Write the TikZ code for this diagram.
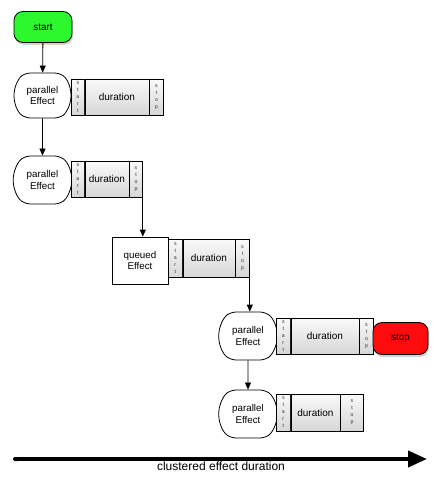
\documentclass[tikz,border=0pt]{standalone}
\usepackage{fontspec}
\setmainfont{Liberation Sans}
\usetikzlibrary{shapes.misc,shadows,arrows.meta}
\definecolor{startgreen}{RGB}{45,248,45}
\definecolor{stopred}{RGB}{252,12,12}
\begin{document}
\begin{tikzpicture}[x=1pt,y=-1pt,
  effect/.style={rounded rectangle, rounded rectangle arc length=110, rounded corners=5pt, draw, line width=0.8pt,
    fill=white, minimum width=57pt, minimum height=47pt, inner sep=0pt, align=center,
    font=\fontsize{9.8}{11.5}\selectfont},
  queued/.style={rectangle, draw, line width=0.8pt, fill=white, minimum width=56pt,
    minimum height=47pt, inner sep=0pt, align=center, font=\fontsize{9.8}{11.5}\selectfont},
  terminal/.style={rectangle, rounded corners=9pt, draw, line width=0.8pt, minimum width=58pt,
    minimum height=31pt, inner sep=0pt, font=\fontsize{10}{12}\selectfont,
    drop shadow={shadow xshift=1pt, shadow yshift=-2.5pt, opacity=0.35}},
  cellbase/.style={rectangle, draw, line width=0.6pt, top color=gray!4, bottom color=gray!32,
    inner sep=0pt, minimum height=36pt, anchor=west},
  durcell/.style={cellbase, font=\fontsize{10}{12}\selectfont},
  sidecell/.style={cellbase, align=center, text=gray!40!black, font=\fontsize{5.2}{7}\selectfont},
  conn/.style={draw, line width=0.8pt, -{Triangle[length=7pt,width=6pt]}}
]
\useasboundingbox (0,0) rectangle (440,484);

% start terminal
\node[terminal, fill=startgreen] (start) at (43,27) {start};

% row 1
\node[effect, minimum height=45pt] (p1) at (42.5,95.5) {parallel\\Effect};
\node[sidecell, minimum width=13pt] (s1) at (71,97) {s\\t\\a\\r\\t};
\node[durcell, minimum width=64pt] (d1) at (s1.east) {duration};
\node[sidecell, minimum width=14pt] (e1) at (d1.east) {s\\t\\o\\p};

% row 2
\node[effect, minimum height=48pt] (p2) at (42.5,180) {parallel\\Effect};
\node[sidecell, minimum width=13pt] (s2) at (71,179) {s\\t\\a\\r\\t};
\node[durcell, minimum width=44pt] (d2) at (s2.east) {duration};
\node[sidecell, minimum width=13pt] (e2) at (d2.east) {s\\t\\o\\p};

% row 3
\node[queued] (q) at (140,260.5) {queued\\Effect};
\node[sidecell, minimum width=14pt, minimum height=38pt] (s3) at (168,258) {s\\t\\a\\r\\t};
\node[durcell, minimum width=52pt, minimum height=38pt] (d3) at (s3.east) {duration};
\node[sidecell, minimum width=14pt, minimum height=38pt] (e3) at (d3.east) {s\\t\\o\\p};

% row 4
\node[effect, minimum height=48pt] (p3) at (248,336) {parallel\\Effect};
\node[sidecell, minimum width=14pt] (s4) at (276,336) {s\\t\\a\\r\\t};
\node[durcell, minimum width=68pt] (d4) at (s4.east) {duration};
\node[sidecell, minimum width=14pt] (e4) at (d4.east) {s\\t\\o\\p};
\node[terminal, fill=stopred, minimum width=55pt, minimum height=32pt] (stop) at (400.5,338.5) {stop};

% row 5
\node[effect, minimum height=48pt] (p4) at (248,414) {parallel\\Effect};
\node[sidecell, minimum width=14pt, minimum height=37pt] (s5) at (276,412.5) {s\\t\\a\\r\\t};
\node[durcell, minimum width=49pt, minimum height=37pt] (d5) at (s5.east) {duration};
\node[sidecell, minimum width=23pt, minimum height=37pt] (e5) at (d5.east) {s\\t\\o\\p};

% connectors
\path[conn] (start) -- (p1);
\path[conn] (p1) -- (p2);
\path[conn] (e2.south east) -- (e2.south east |- q.north);
\path[conn] (e3.south east) -- (e3.south east |- p3.north);
\path[conn] (p3) -- (p4);

% time axis
\coordinate (ax0) at (13,459);
\coordinate (ax1) at (427,459);
\draw[line width=4pt, {Round Cap[]}-{Triangle[length=19pt,width=16pt]}] (ax0) -- (ax1);
\node[anchor=north, inner sep=0pt, font=\fontsize{12}{14}\selectfont] (lbl) at (221,462) {clustered effect duration};
\end{tikzpicture}
\end{document}
